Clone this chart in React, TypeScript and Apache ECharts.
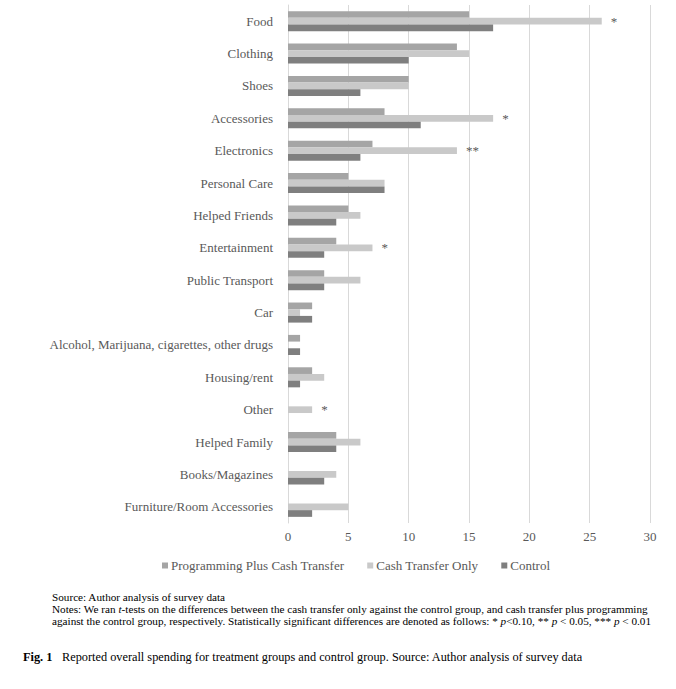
import React, { useEffect, useRef } from "react";
import * as echarts from "echarts";

const categories = [
  "Food",
  "Clothing",
  "Shoes",
  "Accessories",
  "Electronics",
  "Personal Care",
  "Helped Friends",
  "Entertainment",
  "Public Transport",
  "Car",
  "Alcohol, Marijuana, cigarettes, other drugs",
  "Housing/rent",
  "Other",
  "Helped Family",
  "Books/Magazines",
  "Furniture/Room Accessories",
];
const programmingPlusCash = [15, 14, 10, 8, 7, 5, 5, 4, 3, 2, 1, 2, 0, 4, 0, 0];
const cashOnly = [26, 15, 10, 17, 14, 8, 6, 7, 6, 1, 0, 3, 2, 6, 4, 5];
const control = [17, 10, 6, 11, 6, 8, 4, 3, 3, 2, 1, 1, 0, 4, 3, 2];
const significance = ["*", "", "", "*", "**", "", "", "*", "", "", "", "", "*", "", "", ""];
const xTicks = [0, 5, 10, 15, 20, 25, 30];
const seriesNames = ["Programming Plus Cash Transfer", "Cash Transfer Only", "Control"];

const SERIF = "Liberation Serif";

export default function App() {
  const ref = useRef<HTMLDivElement>(null);
  useEffect(() => {
    const chart = echarts.init(ref.current!, null, { renderer: "svg" });
    const barBase = {
      type: "bar" as const,
      barGap: "0%",
      barCategoryGap: "38%",
    };
    chart.setOption({
      animation: false,
      backgroundColor: "#ffffff",
      textStyle: { fontFamily: SERIF },
      grid: { left: 288, right: 26, top: 5, bottom: 166, containLabel: false },
      xAxis: {
        type: "value",
        min: xTicks[0],
        max: xTicks[xTicks.length - 1],
        interval: 5,
        axisLine: { show: false },
        axisTick: { show: false },
        splitLine: { show: true, lineStyle: { color: "#d9d9d9", width: 1 } },
        axisLabel: { color: "#595959", fontFamily: SERIF, fontSize: 13, margin: 7 },
      },
      yAxis: {
        type: "category",
        data: categories,
        inverse: true,
        axisLine: { show: true, lineStyle: { color: "#d9d9d9" } },
        axisTick: { show: false },
        axisLabel: { color: "#595959", fontFamily: SERIF, fontSize: 13, margin: 15 },
      },
      legend: {
        data: seriesNames,
        bottom: 112,
        left: 157,
        icon: "rect",
        itemWidth: 6,
        itemHeight: 6,
        itemGap: 23,
        textStyle: { color: "#595959", fontFamily: SERIF, fontSize: 13, padding: [0, 0, 0, -2] },
      },
      series: [
        { ...barBase, name: seriesNames[0], data: programmingPlusCash, itemStyle: { color: "#a5a5a5" } },
        {
          ...barBase,
          name: seriesNames[1],
          data: cashOnly,
          itemStyle: { color: "#c9c9c9" },
          label: {
            show: true,
            position: "right",
            distance: 9,
            color: "#595959",
            fontFamily: SERIF,
            fontSize: 13,
            formatter: (p: any) => significance[p.dataIndex],
          },
        },
        { ...barBase, name: seriesNames[2], data: control, itemStyle: { color: "#7f7f7f" } },
      ],
      graphic: [
        {
          type: "text",
          left: 52,
          top: 591,
          style: {
            text: "Source: Author analysis of survey data",
            fontFamily: SERIF,
            fontSize: 11.2,
            fill: "#000",
          },
        },
        {
          type: "text",
          left: 52,
          top: 603,
          style: {
            text:
              "Notes: We ran {i|t}-tests on the differences between the cash transfer only against the control group, and cash transfer plus programming\nagainst the control group, respectively. Statistically significant differences are denoted as follows: * {i|p}<0.10, ** {i|p} < 0.05, *** {i|p} < 0.01",
            fontFamily: SERIF,
            fontSize: 11.2,
            fill: "#000",
            lineHeight: 12,
            rich: {
              i: { fontStyle: "italic", fontFamily: SERIF, fontSize: 11.2, fill: "#000", lineHeight: 12 },
            },
          },
        },
        {
          type: "text",
          left: 23,
          top: 651,
          style: {
            text: "Fig. 1",
            fontFamily: SERIF,
            fontWeight: "bold",
            fontSize: 12.3,
            fill: "#000",
          },
        },
        {
          type: "text",
          left: 62,
          top: 651,
          style: {
            text: "Reported overall spending for treatment groups and control group. Source: Author analysis of survey data",
            fontFamily: SERIF,
            fontSize: 12.3,
            fill: "#000",
          },
        },
      ],
    });
    return () => chart.dispose();
  }, []);
  return (
    <div
      ref={ref}
      style={{ position: "fixed", left: 0, top: 0, width: 676, height: 689, background: "#fff" }}
    />
  );
}
